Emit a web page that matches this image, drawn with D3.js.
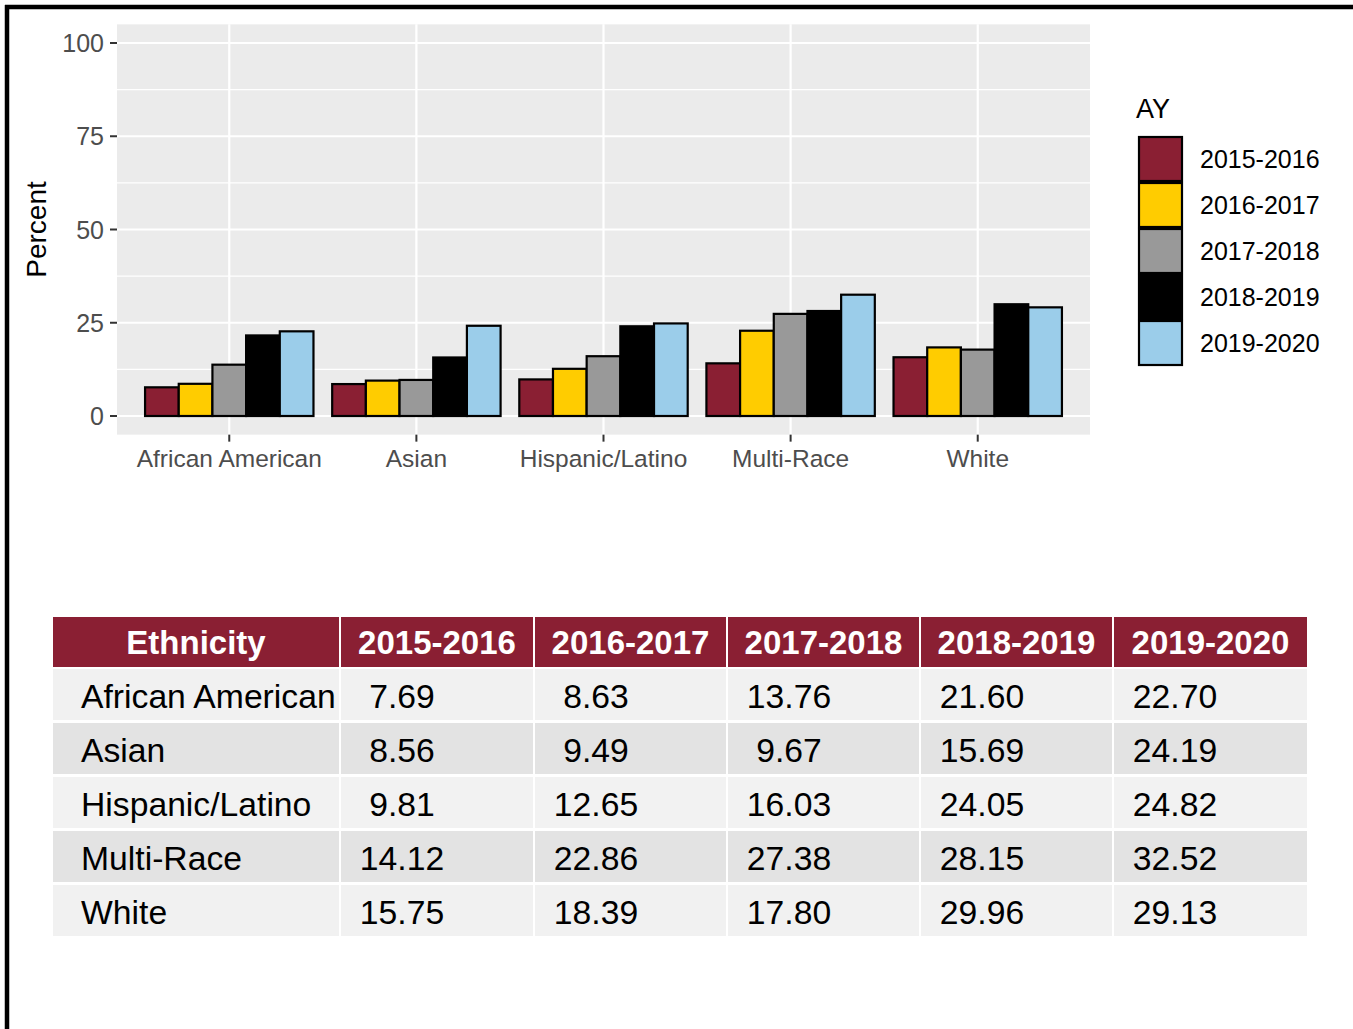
<!DOCTYPE html>
<html>
<head>
<meta charset="utf-8">
<script src="https://cdn.jsdelivr.net/npm/d3@7"></script>
<style>
  html, body { margin: 0; padding: 0; background: #ffffff; }
  svg { display: block; }
  text { font-family: "Liberation Sans", Arial, sans-serif; }
</style>
</head>
<body>
<svg id="chart" width="1353" height="1029"></svg>
<script>
// ---------- DATA ----------
const categories = ["African American", "Asian", "Hispanic/Latino", "Multi-Race", "White"];
const years = ["2015-2016", "2016-2017", "2017-2018", "2018-2019", "2019-2020"];
const v2015 = [7.69, 8.56, 9.81, 14.12, 15.75];
const v2016 = [8.63, 9.49, 12.65, 22.86, 18.39];
const v2017 = [13.76, 9.67, 16.03, 27.38, 17.80];
const v2018 = [21.60, 15.69, 24.05, 28.15, 29.96];
const v2019 = [22.70, 24.19, 24.82, 32.52, 29.13];
const yTicks = [0, 25, 50, 75, 100];
const yMinor = [12.5, 37.5, 62.5, 87.5];
const legendTitle = "AY";
const yTitle = "Percent";
const tableHeader = ["Ethnicity", "2015-2016", "2016-2017", "2017-2018", "2018-2019", "2019-2020"];

const seriesValues = [v2015, v2016, v2017, v2018, v2019];
const colors = ["#8A1F33", "#FFCC00", "#999999", "#000000", "#9BCDEA"];

// ---------- SETUP ----------
const svg = d3.select("#chart");
svg.append("rect").attr("width", 1353).attr("height", 1029).attr("fill", "#ffffff");

// frame (top and left edges visible)
svg.append("line").attr("x1", 5).attr("x2", 1353).attr("y1", 7).attr("y2", 7)
  .attr("stroke", "#000").attr("stroke-width", 4.5);
svg.append("line").attr("x1", 7).attr("x2", 7).attr("y1", 5).attr("y2", 1029)
  .attr("stroke", "#000").attr("stroke-width", 4.5);

// ---------- SCALES ----------
const panelL = 117, panelR = 1090;
const y = d3.scaleLinear().domain([0, 100]).range([416, 43]);
const x = d3.scaleBand().domain(categories).range([panelL, panelR])
  .paddingInner(0.1).paddingOuter(0.15);
const xInner = d3.scaleBand().domain(years).range([0, x.bandwidth()]).padding(0);
const color = d3.scaleOrdinal().domain(years).range(colors);

const panelT = y(105), panelB = y(-5);

// panel
svg.append("rect").attr("x", panelL).attr("y", panelT)
  .attr("width", panelR - panelL).attr("height", panelB - panelT)
  .attr("fill", "#EBEBEB");

// grid
const grid = svg.append("g");
grid.selectAll(".minor").data(yMinor).join("line")
  .attr("x1", panelL).attr("x2", panelR)
  .attr("y1", d => y(d)).attr("y2", d => y(d))
  .attr("stroke", "#fff").attr("stroke-width", 1.1);
grid.selectAll(".major").data(yTicks).join("line")
  .attr("x1", panelL).attr("x2", panelR)
  .attr("y1", d => y(d)).attr("y2", d => y(d))
  .attr("stroke", "#fff").attr("stroke-width", 2.2);
grid.selectAll(".vmajor").data(categories).join("line")
  .attr("x1", d => x(d) + x.bandwidth() / 2).attr("x2", d => x(d) + x.bandwidth() / 2)
  .attr("y1", panelT).attr("y2", panelB)
  .attr("stroke", "#fff").attr("stroke-width", 2.2);

// bars
const barData = [];
categories.forEach((c, i) => {
  years.forEach((yr, j) => {
    barData.push({ cat: c, year: yr, value: seriesValues[j][i] });
  });
});
svg.append("g").selectAll("rect").data(barData).join("rect")
  .attr("x", d => x(d.cat) + xInner(d.year))
  .attr("y", d => y(d.value))
  .attr("width", xInner.bandwidth())
  .attr("height", d => y(0) - y(d.value))
  .attr("fill", d => color(d.year))
  .attr("stroke", "#000").attr("stroke-width", 2.2);

// y axis
const yAxis = svg.append("g");
yAxis.selectAll("line").data(yTicks).join("line")
  .attr("x1", panelL - 7).attr("x2", panelL)
  .attr("y1", d => y(d)).attr("y2", d => y(d))
  .attr("stroke", "#333").attr("stroke-width", 2);
yAxis.selectAll("text").data(yTicks).join("text")
  .attr("x", panelL - 13).attr("y", d => y(d)).attr("dy", "0.36em")
  .attr("text-anchor", "end").attr("font-size", 25).attr("fill", "#4D4D4D")
  .text(d => d);

// x axis
const xAxis = svg.append("g");
xAxis.selectAll("line").data(categories).join("line")
  .attr("x1", d => x(d) + x.bandwidth() / 2).attr("x2", d => x(d) + x.bandwidth() / 2)
  .attr("y1", panelB).attr("y2", panelB + 7)
  .attr("stroke", "#333").attr("stroke-width", 2);
xAxis.selectAll("text").data(categories).join("text")
  .attr("x", d => x(d) + x.bandwidth() / 2).attr("y", 467)
  .attr("text-anchor", "middle").attr("font-size", 24.5).attr("fill", "#4D4D4D")
  .text(d => d);

// y title
svg.append("text")
  .attr("transform", "translate(46," + ((panelT + panelB) / 2) + ") rotate(-90)")
  .attr("text-anchor", "middle").attr("font-size", 28).attr("fill", "#000")
  .text(yTitle);

// legend
const leg = svg.append("g");
leg.append("text").attr("x", 1136).attr("y", 118)
  .attr("font-size", 27).attr("fill", "#000").text(legendTitle);
const keyY = d3.scaleBand().domain(years).range([136, 366]).padding(0);
leg.selectAll("rect").data(years).join("rect")
  .attr("x", 1139).attr("y", d => keyY(d) + 1)
  .attr("width", 43).attr("height", keyY.bandwidth() - 2)
  .attr("fill", d => color(d)).attr("stroke", "#000").attr("stroke-width", 2.2);
leg.selectAll("text.lab").data(years).join("text")
  .attr("class", "lab")
  .attr("x", 1200).attr("y", d => keyY(d) + keyY.bandwidth() / 2).attr("dy", "0.36em")
  .attr("font-size", 25).attr("fill", "#000").text(d => d);

// ---------- TABLE ----------
const colStarts = [53, 341, 535, 728, 921, 1114];
const colEnds = [339, 533, 726, 919, 1112, 1307];
const headTop = 617, headH = 50;
const rowTop0 = 669, rowH = 51, rowStep = 54;
const rowFills = ["#F1F1F1", "#E3E3E3", "#F2F2F2", "#E3E3E3", "#F1F1F1"];

const tbl = svg.append("g");
tbl.selectAll("rect.h").data(tableHeader).join("rect")
  .attr("class", "h")
  .attr("x", (d, i) => colStarts[i]).attr("y", headTop)
  .attr("width", (d, i) => colEnds[i] - colStarts[i]).attr("height", headH)
  .attr("fill", "#8A1F33");
tbl.selectAll("text.h").data(tableHeader).join("text")
  .attr("class", "h")
  .attr("x", (d, i) => (colStarts[i] + colEnds[i]) / 2).attr("y", headTop + 37)
  .attr("text-anchor", "middle").attr("font-size", 33).attr("font-weight", "bold")
  .attr("fill", "#fff").text(d => d);

categories.forEach((c, r) => {
  const top = rowTop0 + r * rowStep;
  const cells = [c].concat(seriesValues.map(s => s[r].toFixed(2)));
  const g = tbl.append("g");
  g.selectAll("rect").data(cells).join("rect")
    .attr("x", (d, i) => colStarts[i]).attr("y", top)
    .attr("width", (d, i) => colEnds[i] - colStarts[i]).attr("height", rowH)
    .attr("fill", rowFills[r]);
  g.selectAll("text").data(cells).join("text")
    .attr("x", (d, i) => i === 0 ? 81 : colStarts[i] + 61)
    .attr("y", top + 39)
    .attr("text-anchor", (d, i) => i === 0 ? "start" : "middle")
    .attr("font-size", 33.7).attr("fill", "#000")
    .text(d => d);
});
</script>
</body>
</html>
